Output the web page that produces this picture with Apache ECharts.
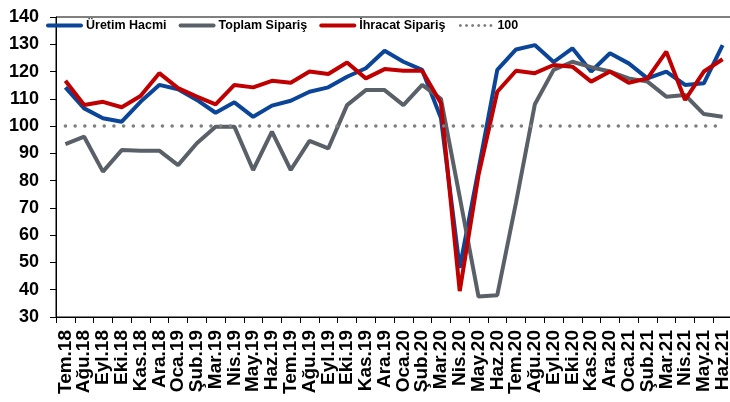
<!DOCTYPE html>
<html>
<head>
<meta charset="utf-8">
<script src="https://cdn.jsdelivr.net/npm/echarts@6/dist/echarts.min.js"></script>
<style>
  html, body { margin: 0; padding: 0; background: #fff; }
  #main { width: 730px; height: 402px; }
</style>
</head>
<body>
<div id="main"></div>
<script>
var months = ['Tem.18', 'Ağu.18', 'Eyl.18', 'Eki.18', 'Kas.18', 'Ara.18',
    'Oca.19', 'Şub.19', 'Mar.19', 'Nis.19', 'May.19', 'Haz.19',
    'Tem.19', 'Ağu.19', 'Eyl.19', 'Eki.19', 'Kas.19', 'Ara.19',
    'Oca.20', 'Şub.20', 'Mar.20', 'Nis.20', 'May.20', 'Haz.20',
    'Tem.20', 'Ağu.20', 'Eyl.20', 'Eki.20', 'Kas.20', 'Ara.20',
    'Oca.21', 'Şub.21', 'Mar.21', 'Nis.21', 'May.21', 'Haz.21'];

var uretimHacmi = [114.2, 106.5, 102.9, 101.6, 108.9, 115.1, 113.5, 109.6, 104.9, 108.7, 103.4, 107.5,
    109.3, 112.6, 114.2, 118.1, 121.2, 127.6, 123.6, 120.6, 103, 48, 84, 120.6,
    128.1, 129.7, 123.5, 128.5, 120, 126.7, 123, 117.5, 120, 115.1, 115.7, 129.7];

var toplamSiparis = [93.4, 96.1, 83.3, 91.2, 91, 91, 85.7, 93.7, 99.8, 99.8, 83.9, 98,
    83.9, 94.6, 91.8, 107.7, 113.2, 113.2, 107.7, 115.1, 110, 74, 37.5, 38,
    72, 108, 120.6, 123.6, 121.6, 120, 117.5, 116.3, 110.8, 111.4, 104.4, 103.4];

var ihracatSiparis = [116.6, 107.7, 108.9, 106.9, 111, 119.4, 113.9, 110.8, 108, 115.1, 114.2, 116.6,
    115.9, 120, 119.1, 123.3, 117.5, 120.9, 120.3, 120.3, 108.4, 39.5, 82, 112.6,
    120.3, 119.4, 122.4, 121.8, 116.3, 120, 115.9, 117.5, 127.3, 109.6, 120, 124.5];

var refLevel = 100;
var refLine = months.map(function () { return refLevel; });

var myChart = echarts.init(document.getElementById('main'));
var font = 'Liberation Sans, Arial, sans-serif';

// legend icons: a thick bar for the lines, six dots for the 100 line
var barIcon = 'path://M2,0h33a2,2 0 0 1 0,4h-33a2,2 0 0 1 0,-4z';
var dotIcon = 'path://';
for (var k = 0; k < 6; k++) {
    var cx = 3 + k * 6.1;
    dotIcon += 'M' + (cx - 1.5) + ',2a1.5,1.5 0 1 0 3,0a1.5,1.5 0 1 0 -3,0z';
}
dotIcon += 'M0,0.5h0.01M37,3.5h0.01';  // keep the dots at their place in a 37 wide box

var option = {
    backgroundColor: '#fff',
    animation: false,
    textStyle: { fontFamily: font },
    grid: {
        left: 56, width: 676, top: 17, bottom: 85,
        outerBoundsMode: 'none',
        show: true, borderColor: '#000', borderWidth: 1
    },
    legend: {
        top: 14, left: 41,
        itemWidth: 37, itemHeight: 4, itemGap: 12,
        textStyle: { fontFamily: font, fontSize: 12.5, fontWeight: 'bold', color: '#000', padding: [0, 0, 0, -2] },
        data: [
            { name: 'Üretim Hacmi', icon: barIcon },
            { name: 'Toplam Sipariş', icon: barIcon },
            { name: 'İhracat Sipariş', icon: barIcon },
            { name: '100', icon: dotIcon }
        ]
    },
    xAxis: {
        type: 'category',
        data: months,
        boundaryGap: true,
        axisLine: { lineStyle: { color: '#000', width: 1 } },
        axisTick: { show: true, length: 6, interval: 0, lineStyle: { color: '#000' } },
        axisLabel: {
            interval: 0, rotate: 90, margin: 13,
            fontFamily: font, fontSize: 19, fontWeight: 'bold', color: '#000'
        },
        splitLine: { show: false }
    },
    yAxis: {
        type: 'value',
        min: 30, max: 140, interval: 10,
        axisLine: { show: true, lineStyle: { color: '#000', width: 1 } },
        axisTick: { show: true, length: 6, lineStyle: { color: '#000' } },
        axisLabel: { margin: 17, fontFamily: font, fontSize: 18, fontWeight: 'bold', color: '#000' },
        splitLine: { show: false }
    },
    series: [
        {
            name: 'Üretim Hacmi', type: 'line', data: uretimHacmi,
            symbol: 'none', color: '#0A4597',
            lineStyle: { width: 4, color: '#0A4597' }
        },
        {
            name: 'Toplam Sipariş', type: 'line', data: toplamSiparis,
            symbol: 'none', color: '#5A6068',
            lineStyle: { width: 4, color: '#5A6068' }
        },
        {
            name: 'İhracat Sipariş', type: 'line', data: ihracatSiparis,
            symbol: 'none', color: '#C00000',
            lineStyle: { width: 4, color: '#C00000' }
        },
        {
            name: '100', type: 'line', data: refLine,
            symbol: 'none', color: '#7F7F7F',
            lineStyle: { width: 3.5, color: '#7F7F7F', type: [0.1, 9.6], cap: 'round' }
        }
    ]
};

myChart.setOption(option);
</script>
</body>
</html>
